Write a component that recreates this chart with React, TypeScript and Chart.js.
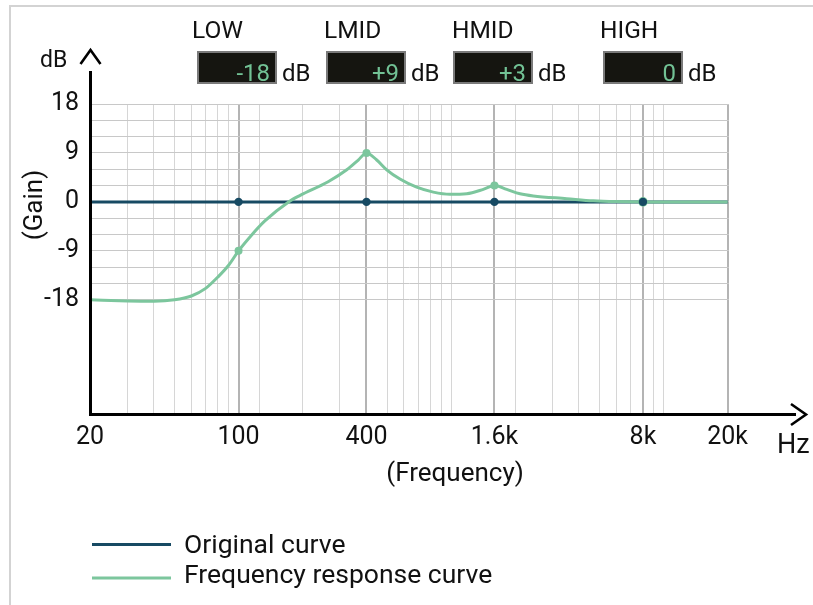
import React, { useEffect, useRef } from 'react';
import { Chart, registerables } from 'chart.js';

Chart.register(...registerables);

const FONT = 'Roboto, "Noto Sans", sans-serif';

// Band controls shown above the chart
const bandNames = ['LOW', 'LMID', 'HMID', 'HIGH'];
const bandGainTexts = ['-18', '+9', '+3', '0'];
const bandFreqs = [100, 400, 1600, 8000];

// Frequency response curve (Hz, dB)
const responseFreqs = [20, 30, 40, 50, 60, 70, 80, 90, 100, 114, 133, 172, 195, 264, 323, 366, 400, 447, 498, 575, 689, 825, 988, 1185, 1419, 1600, 1828, 2112, 2438, 3500, 4672, 6000, 8000, 12000, 20000];
const responseGains = [-18.0, -18.2, -18.25, -18.0, -17.3, -15.9, -13.8, -11.6, -9.0, -6.3, -3.5, 0, 1.2, 3.7, 5.9, 7.7, 9.0, 7.7, 5.9, 4.2, 2.7, 1.8, 1.4, 1.5, 2.3, 3.0, 2.3, 1.5, 1.1, 0.6, 0.2, 0.05, 0, 0, 0];

// Original (flat) curve
const originalFreqs = [20, 100, 400, 1600, 8000, 20000];
const originalGains = [0, 0, 0, 0, 0, 0];

// Axis grid / tick definitions
const xGridFreqs = [20, 30, 40, 50, 60, 70, 80, 90, 100, 125, 200, 300, 400, 500, 600, 700, 800, 900, 1000, 1600, 2000, 3000, 4000, 5000, 6000, 7000, 8000, 9000, 10000, 20000];
const xMajorFreqs = [100, 400, 1600, 8000, 20000];
const xTickValues = [20, 100, 400, 1600, 8000, 20000];
const xTickTexts = ['20', '100', '400', '1.6k', '8k', '20k'];
const yGridValues = [-18, -15, -12, -9, -6, -3, 0, 3, 6, 9, 12, 15, 18];
const yTickValues = [-18, -9, 0, 9, 18];

const DARK = '#174a63';
const GREEN = '#7cc69d';

const decorPlugin = {
  id: 'decor',
  afterDraw(chart: any) {
    const ctx = chart.ctx as CanvasRenderingContext2D;
    const area = chart.chartArea;
    const L = area.left;
    const B = area.bottom;
    ctx.save();
    // frame lines
    ctx.fillStyle = '#d3d3d3';
    ctx.fillRect(9, 5, 804, 2);
    ctx.fillRect(9, 5, 2, 600);

    // axes
    ctx.strokeStyle = '#000';
    ctx.lineWidth = 3;
    ctx.lineCap = 'butt';
    ctx.beginPath();
    ctx.moveTo(L + 0.5, 71);
    ctx.lineTo(L + 0.5, B + 2);
    ctx.stroke();
    ctx.beginPath();
    ctx.moveTo(L - 1, B + 0.5);
    ctx.lineTo(796, B + 0.5);
    ctx.stroke();
    // arrows
    ctx.lineWidth = 2.6;
    ctx.lineJoin = 'miter';
    ctx.beginPath();
    ctx.moveTo(L - 9.5, 64);
    ctx.lineTo(L + 0.5, 50);
    ctx.lineTo(L + 10.5, 64);
    ctx.stroke();
    ctx.beginPath();
    ctx.moveTo(791, B - 10);
    ctx.lineTo(806, B + 0.5);
    ctx.lineTo(791, B + 11);
    ctx.stroke();

    ctx.fillStyle = '#111';
    ctx.textBaseline = 'alphabetic';
    ctx.textAlign = 'left';
    ctx.font = `23px ${FONT}`;
    ctx.fillText('dB', 40, 67);
    ctx.font = `27px ${FONT}`;
    ctx.fillText('Hz', 777, 453);

    ctx.font = `26px ${FONT}`;
    ctx.textAlign = 'center';
    ctx.fillText('(Frequency)', 455, 481);
    ctx.save();
    ctx.translate(41.5, 205);
    ctx.rotate(-Math.PI / 2);
    ctx.fillText('(Gain)', 0, 0);
    ctx.restore();

    // header: band labels and gain boxes
    const labelX = [192, 324, 452, 600];
    const boxX = [197, 326, 453, 603];
    for (let i = 0; i < bandNames.length; i++) {
      ctx.fillStyle = '#111';
      ctx.font = `24.5px ${FONT}`;
      ctx.textAlign = 'left';
      ctx.fillText(bandNames[i], labelX[i], 38);
      const bx = boxX[i];
      ctx.fillStyle = '#151510';
      ctx.fillRect(bx, 51, 80, 33);
      ctx.strokeStyle = '#7a7a7a';
      ctx.lineWidth = 2;
      ctx.strokeRect(bx + 1, 52, 78, 31);
      ctx.font = `24px ${FONT}`;
      ctx.fillStyle = '#72c295';
      ctx.textAlign = 'right';
      ctx.fillText(bandGainTexts[i], bx + 73, 81);
      ctx.fillStyle = '#111';
      ctx.textAlign = 'left';
      ctx.fillText('dB', bx + 85, 81);
    }

    // legend
    ctx.lineWidth = 3;
    ctx.strokeStyle = DARK;
    ctx.beginPath();
    ctx.moveTo(92, 544.5);
    ctx.lineTo(171, 544.5);
    ctx.stroke();
    ctx.strokeStyle = GREEN;
    ctx.beginPath();
    ctx.moveTo(92, 578);
    ctx.lineTo(171, 578);
    ctx.stroke();
    ctx.fillStyle = '#111';
    ctx.font = `26.5px ${FONT}`;
    ctx.textAlign = 'left';
    ctx.fillText('Original curve', 184, 552.5);
    ctx.fillText('Frequency response curve', 184, 582.5);
    ctx.restore();
  },
};

export default function App() {
  const ref = useRef<HTMLCanvasElement | null>(null);

  useEffect(() => {
    if (!ref.current) return;
    const isBand = (f: number) => bandFreqs.includes(f);
    const chart = new Chart(ref.current, {
      type: 'line',
      data: {
        datasets: [
          {
            label: 'Original points',
            data: originalFreqs.map((f, i) => ({ x: f, y: originalGains[i] })),
            showLine: false,
            pointRadius: (c: any) => (isBand(c.raw?.x) ? 4.2 : 0),
            pointBackgroundColor: DARK,
            pointBorderWidth: 0,
            order: 1,
          } as any,
          {
            label: 'Frequency response curve',
            data: responseFreqs.map((f, i) => ({ x: f, y: responseGains[i] })),
            borderColor: GREEN,
            backgroundColor: GREEN,
            borderWidth: 3,
            cubicInterpolationMode: 'monotone',
            pointRadius: (c: any) => (c.raw?.x === 8000 ? 4.8 : isBand(c.raw?.x) ? 4 : 0),
            pointBackgroundColor: GREEN,
            pointBorderWidth: 0,
            order: 2,
          } as any,
          {
            label: 'Original curve',
            data: originalFreqs.map((f, i) => ({ x: f, y: originalGains[i] })),
            borderColor: DARK,
            backgroundColor: DARK,
            borderWidth: 3,
            pointRadius: 0,
            order: 3,
          } as any,
        ],
      },
      options: {
        responsive: false,
        animation: false,
        events: [],
        layout: { padding: { left: 0, top: 104, right: 84, bottom: 0 } },
        plugins: { legend: { display: false }, tooltip: { enabled: false } },
        scales: {
          x: {
            type: 'logarithmic',
            min: 20,
            max: 20320,
            afterBuildTicks: (s: any) => {
              s.ticks = xGridFreqs.map((v) => ({ value: v }));
            },
            afterFit: (s: any) => {
              s.height = 191;
            },
            border: { display: false },
            grid: {
              drawTicks: false,
              color: (c: any) => (xMajorFreqs.includes(c.tick?.value) ? '#b4b4b4' : '#d6d6d6'),
              lineWidth: (c: any) => (xMajorFreqs.includes(c.tick?.value) ? 2 : 1),
            },
            ticks: {
              autoSkip: false,
              maxRotation: 0,
              padding: 9,
              color: '#111',
              font: { family: FONT, size: 25 },
              callback: (v: any) => {
                const i = xTickValues.indexOf(Number(v));
                return i >= 0 ? xTickTexts[i] : '';
              },
            },
          },
          y: {
            type: 'linear',
            min: -39,
            max: 18,
            afterBuildTicks: (s: any) => {
              s.ticks = yGridValues.map((v) => ({ value: v }));
            },
            afterFit: (s: any) => {
              s.width = 90;
            },
            border: { display: false },
            grid: { drawTicks: false, color: '#c8c8c8', lineWidth: 1 },
            ticks: {
              autoSkip: false,
              padding: 11,
              color: '#111',
              font: { family: FONT, size: 25 },
              callback: (v: any) => (yTickValues.includes(Number(v)) ? String(v) : ''),
            },
          },
        },
      } as any,
      plugins: [decorPlugin],
    });
    return () => chart.destroy();
  }, []);

  return (
    <canvas
      ref={ref}
      width={813}
      height={605}
      style={{ position: 'absolute', left: 0, top: 0, display: 'block', background: '#fff' }}
    />
  );
}
